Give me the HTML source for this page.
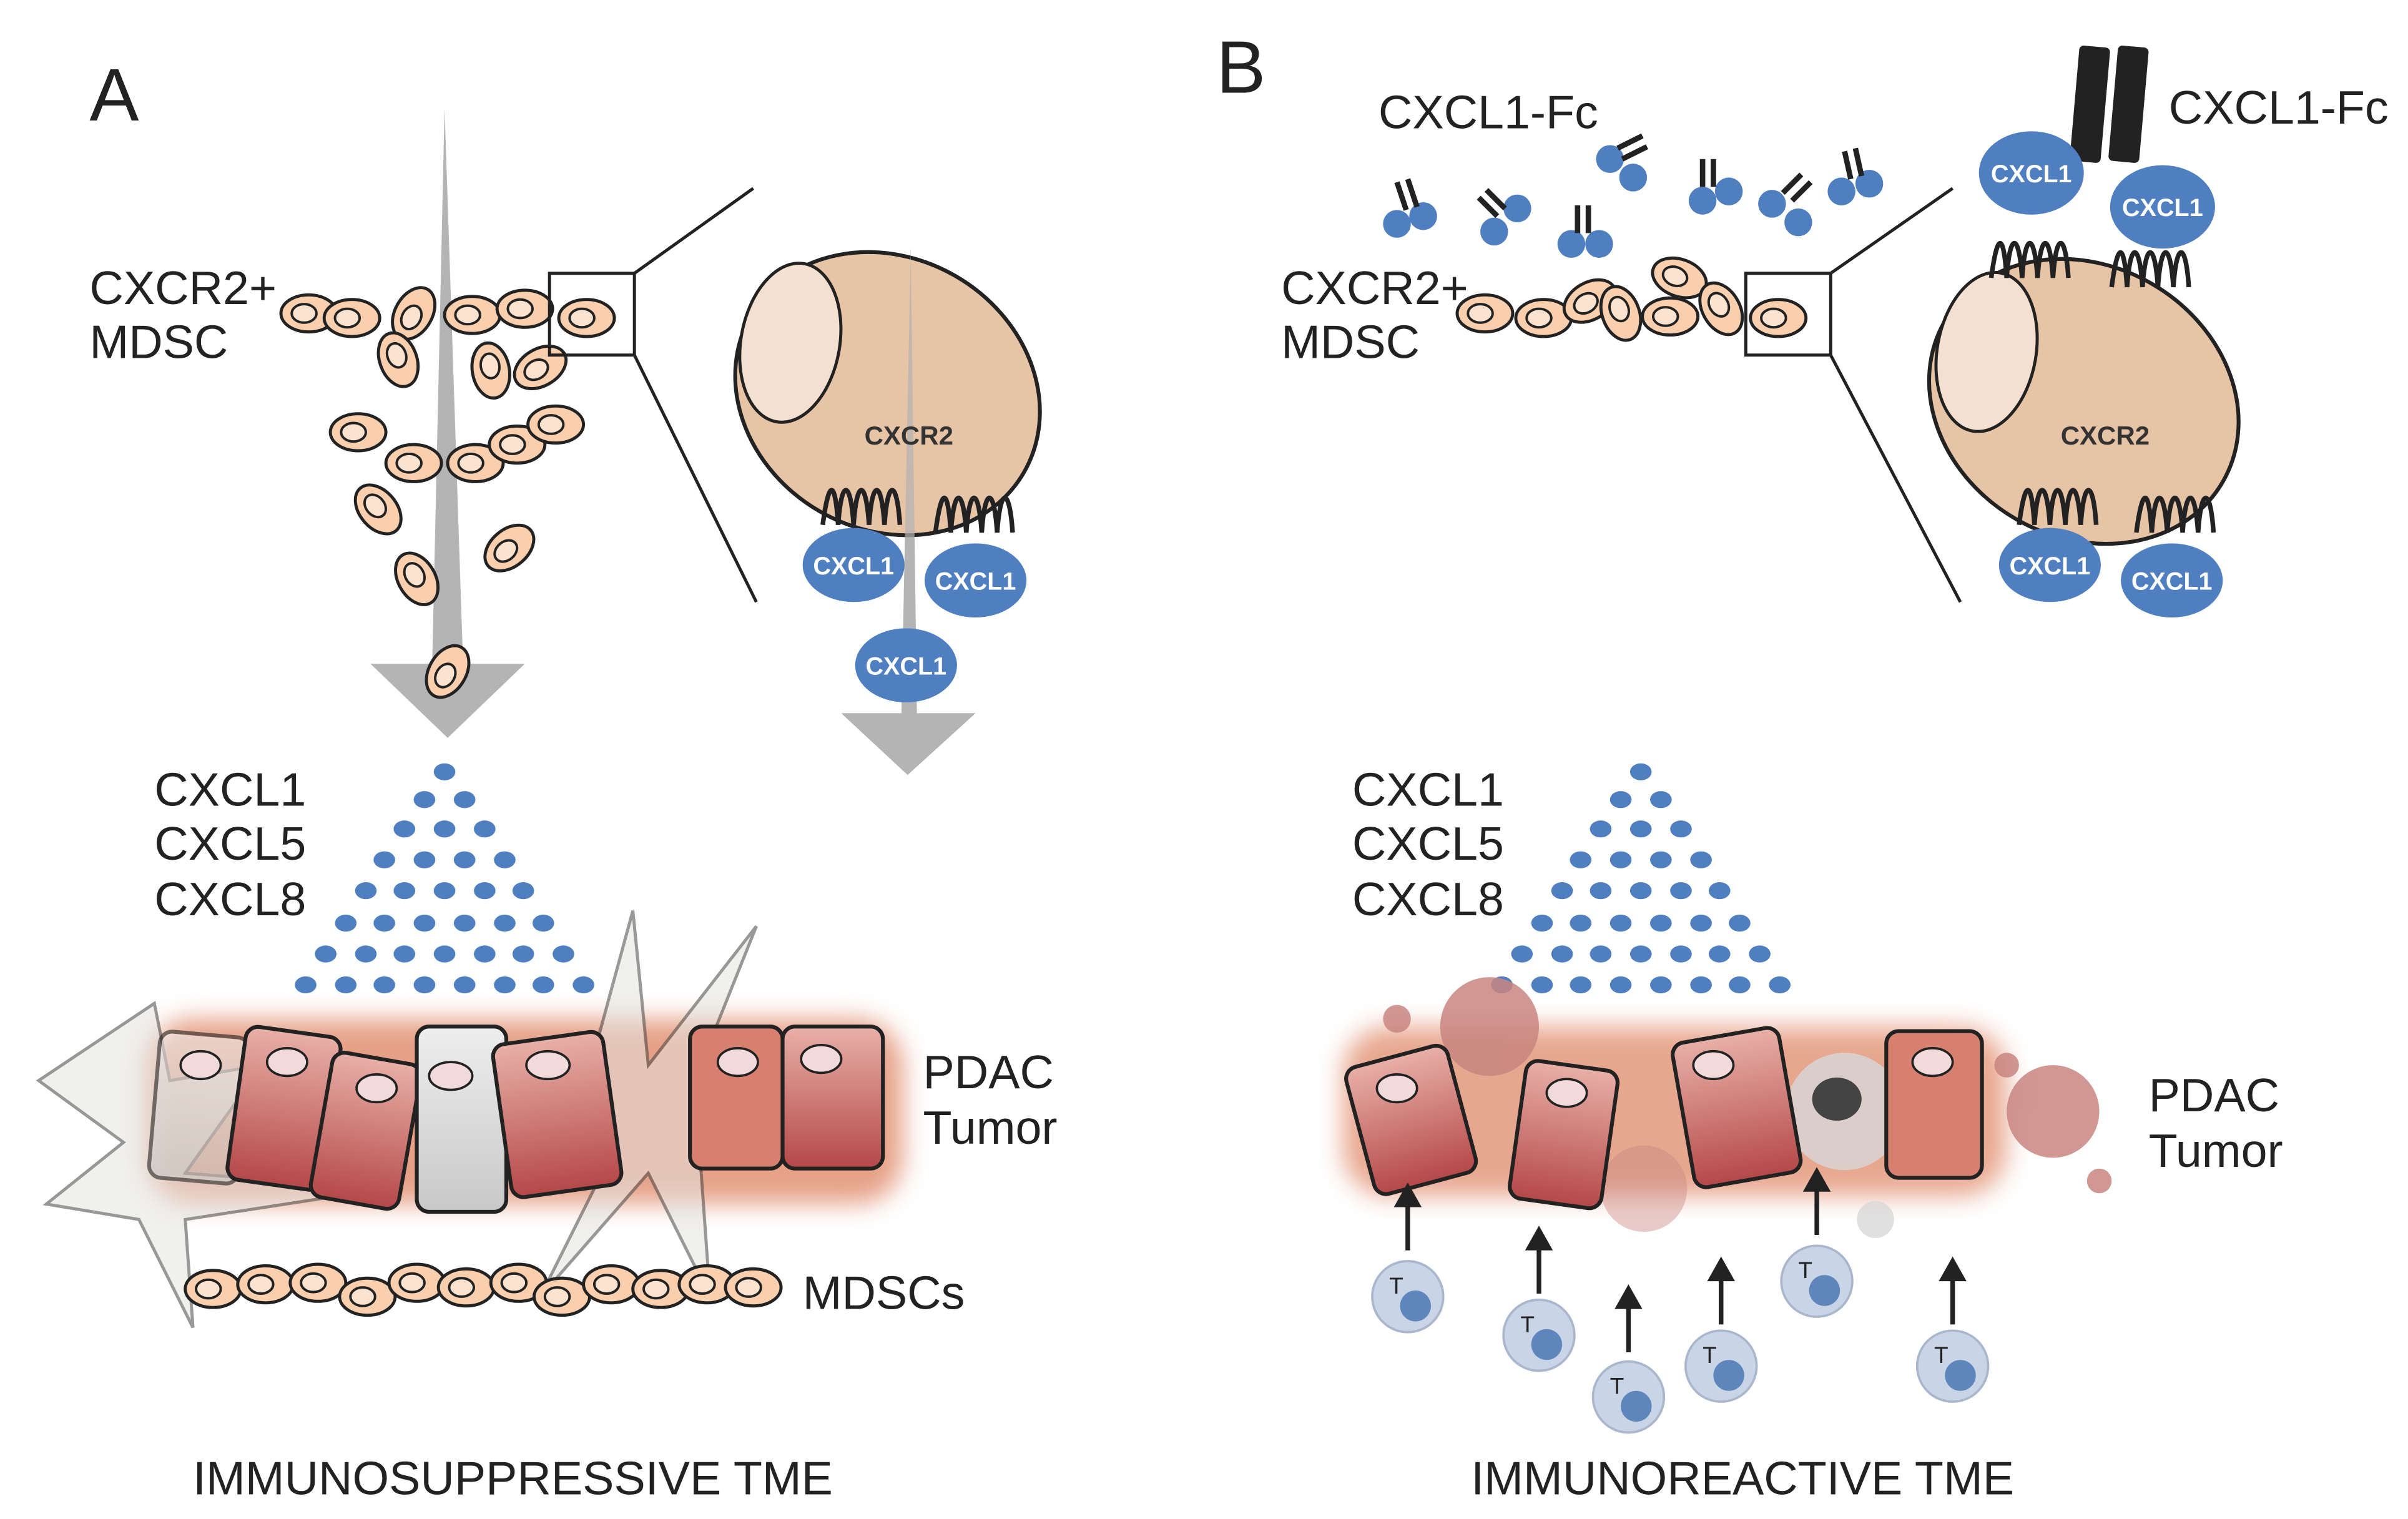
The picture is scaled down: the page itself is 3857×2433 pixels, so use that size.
<!DOCTYPE html>
<html><head><meta charset="utf-8"><style>
html,body{margin:0;padding:0;background:#fff}
svg{display:block}
text{font-family:"Liberation Sans",sans-serif}
</style></head><body>
<svg width="3857" height="2433" viewBox="0 0 1560 984" xmlns="http://www.w3.org/2000/svg">
<defs>
<filter id="glow" x="-30%" y="-30%" width="160%" height="160%"><feGaussianBlur stdDeviation="8"/></filter>
<linearGradient id="tum" x1="0" y1="0" x2="0" y2="1"><stop offset="0" stop-color="#e8b0a8"/><stop offset="1" stop-color="#b54848"/></linearGradient>
<linearGradient id="tumg" x1="0" y1="0" x2="0" y2="1"><stop offset="0" stop-color="#eeeeee"/><stop offset="1" stop-color="#c8c8c8"/></linearGradient>
<g id="m"><ellipse cx="0" cy="0" rx="18" ry="12" fill="#f9cfae" stroke="#222" stroke-width="2"/><ellipse cx="-3" cy="0" rx="8" ry="6" fill="#fbe3cf" stroke="#222" stroke-width="1.6"/></g>
<g id="dots" fill="#4f7fc0">
<ellipse cx="288" cy="500" rx="7" ry="5.5"/>
<ellipse cx="275" cy="518" rx="7" ry="5.5"/><ellipse cx="301" cy="518" rx="7" ry="5.5"/>
<ellipse cx="262" cy="537" rx="7" ry="5.5"/><ellipse cx="288" cy="537" rx="7" ry="5.5"/><ellipse cx="314" cy="537" rx="7" ry="5.5"/>
<ellipse cx="249" cy="557" rx="7" ry="5.5"/><ellipse cx="275" cy="557" rx="7" ry="5.5"/><ellipse cx="301" cy="557" rx="7" ry="5.5"/><ellipse cx="327" cy="557" rx="7" ry="5.5"/>
<ellipse cx="237" cy="577" rx="7" ry="5.5"/><ellipse cx="262" cy="577" rx="7" ry="5.5"/><ellipse cx="288" cy="577" rx="7" ry="5.5"/><ellipse cx="314" cy="577" rx="7" ry="5.5"/><ellipse cx="339" cy="577" rx="7" ry="5.5"/>
<ellipse cx="224" cy="598" rx="7" ry="5.5"/><ellipse cx="249" cy="598" rx="7" ry="5.5"/><ellipse cx="275" cy="598" rx="7" ry="5.5"/><ellipse cx="301" cy="598" rx="7" ry="5.5"/><ellipse cx="327" cy="598" rx="7" ry="5.5"/><ellipse cx="352" cy="598" rx="7" ry="5.5"/>
<ellipse cx="211" cy="618" rx="7" ry="5.5"/><ellipse cx="237" cy="618" rx="7" ry="5.5"/><ellipse cx="262" cy="618" rx="7" ry="5.5"/><ellipse cx="288" cy="618" rx="7" ry="5.5"/><ellipse cx="314" cy="618" rx="7" ry="5.5"/><ellipse cx="339" cy="618" rx="7" ry="5.5"/><ellipse cx="365" cy="618" rx="7" ry="5.5"/>
<ellipse cx="198" cy="638" rx="7" ry="5.5"/><ellipse cx="224" cy="638" rx="7" ry="5.5"/><ellipse cx="249" cy="638" rx="7" ry="5.5"/><ellipse cx="275" cy="638" rx="7" ry="5.5"/><ellipse cx="301" cy="638" rx="7" ry="5.5"/><ellipse cx="327" cy="638" rx="7" ry="5.5"/><ellipse cx="352" cy="638" rx="7" ry="5.5"/><ellipse cx="378" cy="638" rx="7" ry="5.5"/>
</g>
<path id="rec" d="M0 0 c4 -30 8 -30 10 0 c2 -30 8 -30 10 0 c2 -30 8 -30 10 0 c2 -30 8 -30 10 0 c2 -30 8 -30 10 0" fill="none" stroke="#222" stroke-width="3"/>
<g id="tc"><circle r="23" fill="#c9d4e6" stroke="#a9b6cc" stroke-width="1.5"/><circle cx="5" cy="6" r="10" fill="#5e86bd"/><text x="-12" y="-2" font-size="15" fill="#222">T</text></g>
<g id="ar"><line x1="0" y1="0" x2="0" y2="-32" stroke="#222" stroke-width="3"/><path d="M-9 -28 L0 -44 L9 -28Z" fill="#222"/></g>
</defs>

<text x="58" y="78" font-size="48" fill="#222">A</text>
<text x="788" y="60" font-size="48" fill="#222">B</text>

<path d="M288 70 L300 430 L340 430 L290 478 L240 430 L280 430Z" fill="#b4b4b4"/>
<path d="M590 160 L594 462 L632 462 L588 502 L545 462 L584 462Z" fill="#b4b4b4"/>

<text x="58" y="197" font-size="30.5" fill="#222">CXCR2+</text>
<text x="58" y="232" font-size="30.5" fill="#222">MDSC</text>
<use href="#m" x="200" y="203"/><use href="#m" x="228" y="206"/><use href="#m" x="306" y="204"/><use href="#m" x="340" y="200"/><use href="#m" x="380" y="206"/>
<g transform="translate(268,203) rotate(-60)"><use href="#m"/></g>
<g transform="translate(258,233) rotate(70)"><use href="#m"/></g>
<g transform="translate(318,240) rotate(80)"><use href="#m"/></g>
<g transform="translate(350,238) rotate(-30)"><use href="#m"/></g>
<use href="#m" x="232" y="280"/><use href="#m" x="268" y="300"/><use href="#m" x="308" y="300"/><use href="#m" x="335" y="288"/><use href="#m" x="360" y="275"/>
<g transform="translate(245,330) rotate(50)"><use href="#m"/></g>
<g transform="translate(330,355) rotate(-40)"><use href="#m"/></g>
<g transform="translate(270,375) rotate(60)"><use href="#m"/></g>
<g transform="translate(290,435) rotate(-60)"><use href="#m"/></g>
<rect x="356" y="177" width="55" height="53" fill="none" stroke="#222" stroke-width="2"/>
<line x1="411" y1="177" x2="488" y2="122" stroke="#222" stroke-width="2"/>
<line x1="411" y1="230" x2="490" y2="390" stroke="#222" stroke-width="2"/>

<ellipse cx="575" cy="255" rx="102" ry="88" transform="rotate(30 575 255)" fill="#e8c4a6" stroke="#222" stroke-width="2.5"/>
<ellipse cx="512" cy="222" rx="32" ry="52" transform="rotate(10 512 222)" fill="#f3e0d0" stroke="#222" stroke-width="2"/>
<path d="M590 160 L594 462 L632 462 L588 502 L545 462 L584 462Z" fill="#b4b4b4" opacity="0.7"/>
<text x="560" y="288" font-size="17" font-weight="bold" fill="#333">CXCR2</text>
<use href="#rec" x="533" y="340"/><use href="#rec" x="606" y="345"/>
<ellipse cx="553" cy="366" rx="33" ry="24" fill="#4f7fc0"/><text x="553" y="372" font-size="16" font-weight="bold" fill="#fff" text-anchor="middle">CXCL1</text>
<ellipse cx="632" cy="376" rx="33" ry="24" fill="#4f7fc0"/><text x="632" y="382" font-size="16" font-weight="bold" fill="#fff" text-anchor="middle">CXCL1</text>
<ellipse cx="587" cy="431" rx="33" ry="24" fill="#4f7fc0"/><text x="587" y="437" font-size="16" font-weight="bold" fill="#fff" text-anchor="middle">CXCL1</text>

<text x="100" y="522" font-size="30.5" fill="#222">CXCL1</text>
<text x="100" y="557" font-size="30.5" fill="#222">CXCL5</text>
<text x="100" y="593" font-size="30.5" fill="#222">CXCL8</text>
<use href="#dots"/>

<g filter="url(#glow)" fill="#e08a6a" opacity="0.8">
<rect x="95" y="660" width="490" height="120" rx="30"/>
</g>
<g opacity="0.55" fill="#e4e4e0" stroke="#444" stroke-width="2">
<path d="M25 700 L100 650 L110 700 L170 690 L120 760 L250 770 L120 790 L125 860 L90 790 L30 780 L80 740Z"/>
<path d="M380 700 L410 590 L420 690 L490 600 L450 700 L460 840 L420 760 L350 840 L390 760Z"/>
</g>
<g stroke="#222" stroke-width="2.5">
<rect x="100" y="670" width="58" height="95" rx="8" transform="rotate(5 129 717)" fill="url(#tumg)" opacity="0.6"/>
<rect x="153" y="668" width="62" height="100" rx="8" transform="rotate(8 184 718)" fill="url(#tum)"/>
<rect x="208" y="685" width="58" height="95" rx="8" transform="rotate(10 237 732)" fill="url(#tum)"/>
<rect x="270" y="665" width="58" height="120" rx="8" fill="url(#tumg)"/>
<rect x="325" y="672" width="72" height="100" rx="8" transform="rotate(-8 361 722)" fill="url(#tum)"/>
<rect x="447" y="665" width="60" height="92" rx="8" fill="#d88070"/>
<rect x="507" y="665" width="65" height="92" rx="8" fill="url(#tum)"/>
</g>
<g fill="#f3dada" stroke="#222" stroke-width="1.5">
<ellipse cx="130" cy="690" rx="13" ry="9"/><ellipse cx="186" cy="688" rx="13" ry="9"/><ellipse cx="244" cy="705" rx="13" ry="9"/><ellipse cx="292" cy="697" rx="14" ry="9"/><ellipse cx="355" cy="690" rx="14" ry="9"/><ellipse cx="478" cy="688" rx="13" ry="9"/><ellipse cx="532" cy="686" rx="13" ry="9"/>
</g>
<text x="598" y="705" font-size="30.5" fill="#222">PDAC</text>
<text x="598" y="741" font-size="30.5" fill="#222">Tumor</text>
<g>
<use href="#m" x="138" y="835"/><use href="#m" x="172" y="832"/><use href="#m" x="206" y="831"/><use href="#m" x="238" y="840"/><use href="#m" x="270" y="831"/><use href="#m" x="302" y="834"/><use href="#m" x="336" y="831"/><use href="#m" x="364" y="840"/><use href="#m" x="396" y="832"/><use href="#m" x="428" y="835"/><use href="#m" x="458" y="832"/><use href="#m" x="488" y="834"/>
</g>
<text x="520" y="848" font-size="30.5" fill="#222">MDSCs</text>
<text x="125" y="968" font-size="30.5" fill="#222">IMMUNOSUPPRESSIVE TME</text>

<text x="893" y="83" font-size="30.5" fill="#222">CXCL1-Fc</text>
<g fill="#4f7fc0">
<circle cx="905" cy="145" r="9"/><circle cx="922" cy="140" r="9"/>
<circle cx="968" cy="150" r="9"/><circle cx="983" cy="135" r="9"/>
<circle cx="1018" cy="158" r="9"/><circle cx="1036" cy="158" r="9"/>
<circle cx="1043" cy="103" r="9"/><circle cx="1058" cy="115" r="9"/>
<circle cx="1103" cy="130" r="9"/><circle cx="1120" cy="124" r="9"/>
<circle cx="1148" cy="132" r="9"/><circle cx="1165" cy="144" r="9"/>
<circle cx="1193" cy="124" r="9"/><circle cx="1211" cy="119" r="9"/>
</g>
<g stroke="#222" stroke-width="3.5">
<path d="M905 118 l6 18 M912 116 l6 18"/><path d="M958 128 l12 12 M963 123 l12 12"/><path d="M1022 133 v18 M1029 133 v18"/>
<path d="M1048 96 l16 -8 M1051 103 l16 -8"/><path d="M1103 103 v18 M1110 103 v18"/><path d="M1155 125 l12 -12 M1161 130 l12 -12"/><path d="M1195 98 l4 18 M1202 96 l4 18"/>
</g>
<g fill="#222"><rect x="1344" y="30" width="20" height="75" rx="3" transform="rotate(5 1354 67)"/><rect x="1369" y="30" width="20" height="75" rx="3" transform="rotate(5 1379 67)"/></g>
<text x="1405" y="80" font-size="30.5" fill="#222">CXCL1-Fc</text>

<text x="830" y="197" font-size="30.5" fill="#222">CXCR2+</text>
<text x="830" y="232" font-size="30.5" fill="#222">MDSC</text>
<use href="#m" x="962" y="203"/><use href="#m" x="1000" y="206"/><use href="#m" x="1082" y="205"/><use href="#m" x="1152" y="206"/>
<g transform="translate(1030,195) rotate(-30)"><use href="#m"/></g>
<g transform="translate(1050,203) rotate(70)"><use href="#m"/></g>
<g transform="translate(1088,180) rotate(20)"><use href="#m"/></g>
<g transform="translate(1115,200) rotate(60)"><use href="#m"/></g>
<rect x="1131" y="177" width="55" height="53" fill="none" stroke="#222" stroke-width="2"/>
<line x1="1186" y1="177" x2="1265" y2="122" stroke="#222" stroke-width="2"/>
<line x1="1186" y1="230" x2="1270" y2="390" stroke="#222" stroke-width="2"/>
<ellipse cx="1350" cy="260" rx="104" ry="88" transform="rotate(30 1350 260)" fill="#e8c4a6" stroke="#222" stroke-width="2.5"/>
<ellipse cx="1287" cy="228" rx="32" ry="52" transform="rotate(10 1287 228)" fill="#f3e0d0" stroke="#222" stroke-width="2"/>
<text x="1335" y="288" font-size="17" font-weight="bold" fill="#333">CXCR2</text>
<use href="#rec" x="1308" y="340"/><use href="#rec" x="1384" y="345"/>
<use href="#rec" x="1290" y="180"/><use href="#rec" x="1368" y="186"/>
<ellipse cx="1316" cy="112" rx="34" ry="27" fill="#4f7fc0"/><text x="1316" y="118" font-size="16" font-weight="bold" fill="#fff" text-anchor="middle">CXCL1</text>
<ellipse cx="1401" cy="134" rx="34" ry="27" fill="#4f7fc0"/><text x="1401" y="140" font-size="16" font-weight="bold" fill="#fff" text-anchor="middle">CXCL1</text>
<ellipse cx="1328" cy="366" rx="33" ry="24" fill="#4f7fc0"/><text x="1328" y="372" font-size="16" font-weight="bold" fill="#fff" text-anchor="middle">CXCL1</text>
<ellipse cx="1407" cy="376" rx="33" ry="24" fill="#4f7fc0"/><text x="1407" y="382" font-size="16" font-weight="bold" fill="#fff" text-anchor="middle">CXCL1</text>

<text x="876" y="522" font-size="30.5" fill="#222">CXCL1</text>
<text x="876" y="557" font-size="30.5" fill="#222">CXCL5</text>
<text x="876" y="593" font-size="30.5" fill="#222">CXCL8</text>
<use href="#dots" x="775"/>

<g filter="url(#glow)" fill="#e08a6a" opacity="0.75"><rect x="870" y="665" width="430" height="110" rx="30"/></g>
<g fill="#c98580" opacity="0.85">
<circle cx="965" cy="665" r="32"/><circle cx="1330" cy="720" r="30"/><circle cx="1065" cy="770" r="28" opacity="0.5"/>
<circle cx="905" cy="660" r="9"/><circle cx="925" cy="720" r="8"/><circle cx="1300" cy="690" r="8"/><circle cx="1360" cy="765" r="8"/>
</g>
<g fill="#d8d8d8" opacity="0.8"><circle cx="1195" cy="720" r="38"/><circle cx="1215" cy="790" r="12"/></g>
<ellipse cx="1190" cy="712" rx="16" ry="14" fill="#444"/>
<g stroke="#222" stroke-width="2.5">
<rect x="880" y="683" width="68" height="85" rx="8" transform="rotate(-15 914 725)" fill="url(#tum)"/>
<rect x="983" y="690" width="60" height="90" rx="8" transform="rotate(8 1013 735)" fill="url(#tum)"/>
<rect x="1090" y="670" width="70" height="95" rx="8" transform="rotate(-10 1125 717)" fill="url(#tum)"/>
<rect x="1222" y="668" width="62" height="95" rx="8" fill="#d88070"/>
</g>
<g fill="#f3dada" stroke="#222" stroke-width="1.5">
<ellipse cx="905" cy="705" rx="13" ry="9"/><ellipse cx="1015" cy="708" rx="13" ry="9"/><ellipse cx="1110" cy="690" rx="13" ry="9"/><ellipse cx="1252" cy="688" rx="13" ry="9"/>
</g>
<text x="1392" y="720" font-size="30.5" fill="#222">PDAC</text>
<text x="1392" y="756" font-size="30.5" fill="#222">Tumor</text>

<use href="#ar" x="912" y="810"/><use href="#tc" x="912" y="840"/>
<use href="#ar" x="997" y="838"/><use href="#tc" x="997" y="865"/>
<use href="#ar" x="1055" y="876"/><use href="#tc" x="1055" y="905"/>
<use href="#ar" x="1115" y="858"/><use href="#tc" x="1115" y="885"/>
<use href="#ar" x="1177" y="800"/><use href="#tc" x="1177" y="830"/>
<use href="#ar" x="1265" y="858"/><use href="#tc" x="1265" y="885"/>
<text x="953" y="968" font-size="30.5" fill="#222">IMMUNOREACTIVE TME</text>
</svg>
</body></html>
